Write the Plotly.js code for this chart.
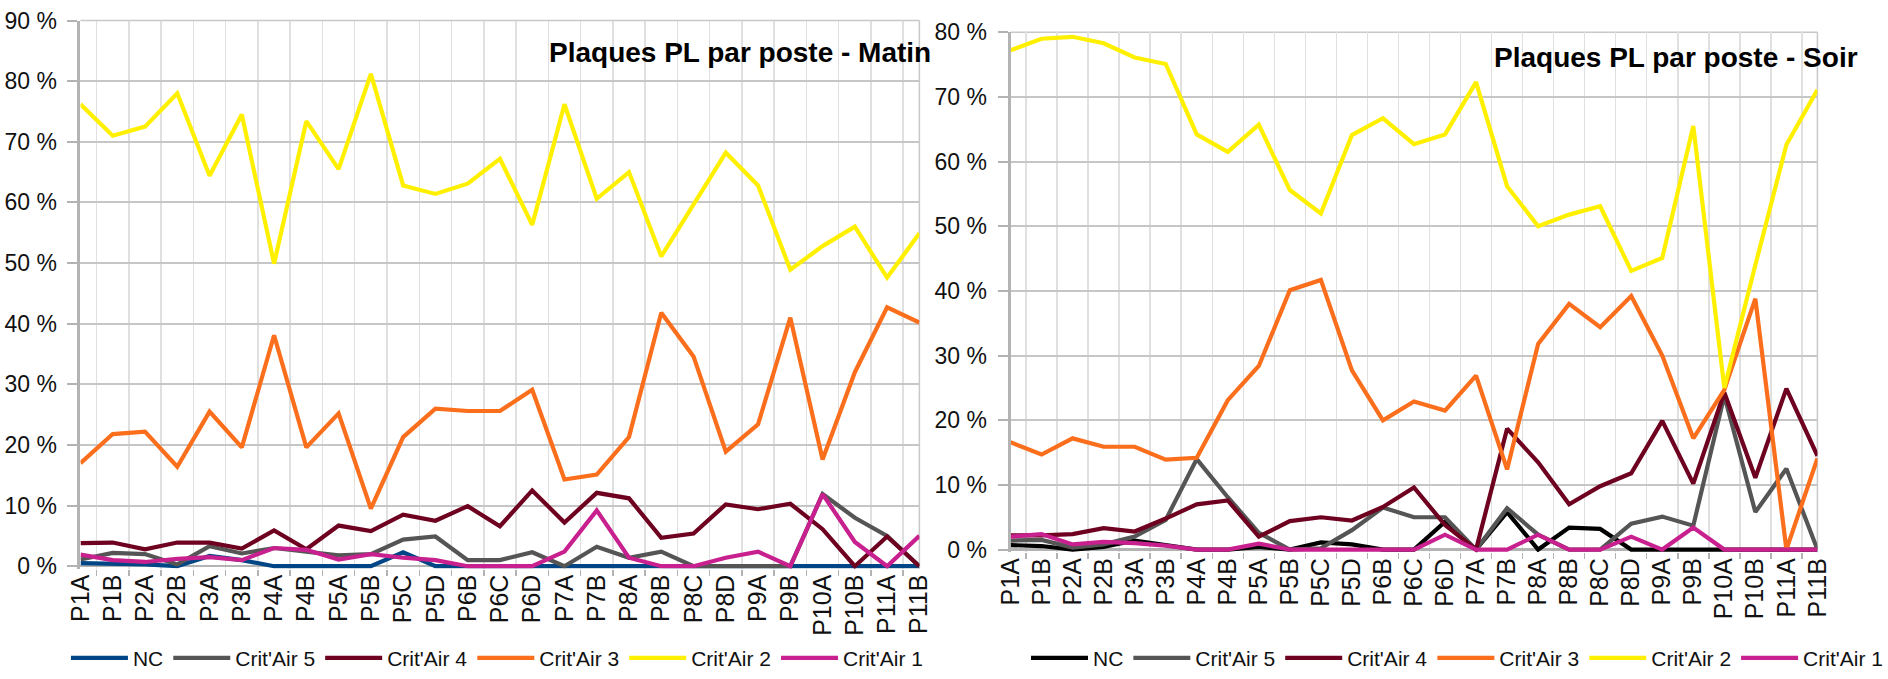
<!DOCTYPE html>
<html>
<head>
<meta charset="utf-8">
<script src="https://cdn.plot.ly/plotly-3.0.1.min.js"></script>
<style>html,body{margin:0;padding:0;background:#fff;}#chart{width:1888px;height:679px;}</style>
</head>
<body>
<div id="chart"></div>
<script>
// ---------- DATA ----------
const categories = ['P1A','P1B','P2A','P2B','P3A','P3B','P4A','P4B','P5A','P5B','P5C','P5D','P6B','P6C','P6D','P7A','P7B','P8A','P8B','P8C','P8D','P9A','P9B','P10A','P10B','P11A','P11B'];
const seriesNames = ['NC', "Crit'Air 5", "Crit'Air 4", "Crit'Air 3", "Crit'Air 2", "Crit'Air 1"];

// Matin (%)
const matinNC  = [0.5,0.4,0.3,0,1.7,1.0,0,0,0,0,2.3,0,0,0,0,0,0,0,0,0,0,0,0,0,0,0,0];
const matinCA5 = [1.1,2.2,2.0,0.3,3.3,2.1,3.0,2.4,1.8,2.0,4.4,4.9,1.0,1.0,2.3,0,3.2,1.4,2.4,0,0,0,0,11.9,8.0,5.0,0];
const matinCA4 = [3.8,3.9,2.8,3.9,3.9,2.9,5.9,2.8,6.7,5.8,8.5,7.5,9.9,6.6,12.5,7.2,12.1,11.2,4.7,5.4,10.2,9.4,10.3,6.1,0,4.9,0];
const matinCA3 = [17.0,21.8,22.2,16.4,25.5,19.6,38.1,19.6,25.2,9.5,21.3,26.0,25.6,25.6,29.1,14.3,15.1,21.3,41.8,34.6,18.9,23.4,41.0,17.6,32.0,42.7,40.2];
const matinCA2 = [76.2,71.0,72.5,78.0,64.4,74.5,49.9,73.4,65.5,81.2,62.8,61.4,63.1,67.2,56.3,76.2,60.6,65.0,51.1,59.8,68.2,62.8,48.9,52.8,56.0,47.6,54.9];
const matinCA1 = [1.9,1.0,0.7,1.2,1.5,1.0,3.0,2.7,1.1,2.0,1.4,1.0,0,0,0,2.4,9.2,1.4,0,0,1.4,2.4,0,11.9,4.0,0,5.0];

// Soir (%)
const soirNC  = [0.7,0.55,0,0.4,1.4,0.7,0,0,0.4,0,1.1,0.8,0,0,4.3,0,5.8,0,3.4,3.2,0,0,0,0,0,0,0];
const soirCA5 = [1.4,1.5,0.3,0.8,2.0,4.6,14.0,8.1,2.6,0,0.2,3.0,6.5,5.0,5.0,0,6.4,2.3,0,0,4.0,5.1,3.7,23.8,5.8,12.5,0];
const soirCA4 = [2.2,2.2,2.4,3.3,2.8,4.8,7.0,7.6,2.0,4.4,5.0,4.5,6.6,9.6,3.8,0,18.7,13.5,7.0,9.8,11.8,19.9,10.2,24.3,11.1,24.9,14.5];
const soirCA3 = [16.6,14.7,17.2,15.9,15.9,13.9,14.2,23.1,28.4,40.1,41.7,27.7,20.0,22.9,21.5,26.9,12.4,31.8,38.0,34.4,39.2,30.0,17.2,24.7,38.8,0,14.1];
const soirCA2 = [77.2,79.0,79.3,78.3,76.1,75.1,64.2,61.5,65.7,55.6,52.0,64.1,66.7,62.7,64.2,72.3,56.2,50.0,51.8,53.1,43.1,45.1,65.5,25.0,44.0,62.6,71.1];
const soirCA1 = [2.0,2.4,0.8,1.2,1.0,0.6,0,0,0.9,0,0,0,0,0,2.3,0,0,2.3,0,0,2.0,0,3.4,0,0,0,0];

const titleMatin = 'Plaques PL par poste - Matin';
const titleSoir  = 'Plaques PL par poste - Soir';

// ---------- STYLE ----------
const W = 1888, H = 679;
const colorsMatin = ['#004586','#555555','#6e0020','#fb6e1c','#fff000','#c8208e'];
const colorsSoir  = ['#000000','#555555','#6e0020','#fb6e1c','#fff000','#c8208e'];
const FONT = 'Liberation Sans, Arial, sans-serif';
const px = v => v / W;
const py = v => 1 - v / H;

const matin = [matinNC, matinCA5, matinCA4, matinCA3, matinCA2, matinCA1];
const soir  = [soirNC, soirCA5, soirCA4, soirCA3, soirCA2, soirCA1];

const traces = [];
matin.forEach((vals, k) => traces.push({
  type: 'scatter', mode: 'lines', x: categories, y: vals, name: seriesNames[k],
  xaxis: 'x', yaxis: 'y', legend: 'legend',
  line: {color: colorsMatin[k], width: 4.2}, hoverinfo: 'skip'
}));
soir.forEach((vals, k) => traces.push({
  type: 'scatter', mode: 'lines', x: categories, y: vals, name: seriesNames[k],
  xaxis: 'x2', yaxis: 'y2', legend: 'legend2',
  line: {color: colorsSoir[k], width: 4.2}, hoverinfo: 'skip'
}));

const gridH = '#c6c6c6', gridV = '#e0e0e0', axisC = '#b3b3b3';

function xAxis(domain, anchor) {
  return {
    type: 'category', domain: domain, anchor: anchor, range: [0, categories.length - 1],
    tickson: 'boundaries', showgrid: true, gridcolor: gridV, gridwidth: 1.5,
    ticks: 'outside', ticklen: 6, tickcolor: axisC, tickwidth: 1.5,
    tickangle: -90, tickfont: {family: FONT, size: 25, color: '#111'},
    showline: false, zeroline: false, fixedrange: true
  };
}
function yAxis(domain, anchor, max) {
  return {
    domain: domain, anchor: anchor, range: [-0.4, max], dtick: 10, tick0: 0,
    ticksuffix: ' %', showgrid: true, gridcolor: gridH, gridwidth: 2,
    zeroline: true, zerolinecolor: axisC, zerolinewidth: 2.5,
    showline: true, linecolor: axisC, linewidth: 3,
    ticks: 'outside', ticklen: 10, tickcolor: axisC, tickwidth: 2,
    ticklabelstandoff: 6,
    tickfont: {family: FONT, size: 23, color: '#111'}, fixedrange: true
  };
}

const leftDomX = [px(83), px(948)];
const rightDomX = [px(1042), px(1874)];
// left: 0 % at y=579, 90 % at y=21 ; right: 0 % at y=562, 80 % at y=33
const left0 = 579, left90 = 21, right0 = 562, right80 = 33;
const leftPerPct = (left0 - left90) / 90, rightPerPct = (right0 - right80) / 80;
const leftDomY = [py(left0 + 0.4 * leftPerPct), py(left90)];
const rightDomY = [py(right0 + 0.4 * rightPerPct), py(right80)];

function frame(xr, yr) {
  return [
    {type: 'line', xref: xr + ' domain', yref: yr + ' domain', x0: 1, x1: 1, y0: 0, y1: 1, line: {color: '#c8c8c8', width: 1.5}, layer: 'below'},
    {type: 'line', xref: xr + ' domain', yref: yr + ' domain', x0: 0, x1: 1, y0: 1, y1: 1, line: {color: '#c8c8c8', width: 1.5}, layer: 'below'}
  ];
}

const legendBase = {
  orientation: 'h', xanchor: 'left', yanchor: 'middle', y: py(673),
  font: {family: FONT, size: 21, color: '#111'}, itemwidth: 57,
  bgcolor: 'rgba(0,0,0,0)', tracegroupgap: 0, itemclick: false, itemdoubleclick: false
};

const layout = {
  width: W, height: H, margin: {l: 0, r: 0, t: 0, b: 0},
  paper_bgcolor: '#fff', plot_bgcolor: '#fff', showlegend: true,
  xaxis: xAxis(leftDomX, 'y'), yaxis: yAxis(leftDomY, 'x', 90),
  xaxis2: xAxis(rightDomX, 'y2'), yaxis2: yAxis(rightDomY, 'x2', 80),
  legend: Object.assign({}, legendBase, {x: px(68)}),
  legend2: Object.assign({}, legendBase, {x: px(1058)}),
  shapes: frame('x', 'y').concat(frame('x2', 'y2')),
  annotations: [
    {text: '<b>' + titleMatin + '</b>', xref: 'paper', yref: 'paper', x: px(564), y: py(54), xanchor: 'left', yanchor: 'middle', showarrow: false, font: {family: FONT, size: 28, color: '#000'}},
    {text: '<b>' + titleSoir + '</b>', xref: 'paper', yref: 'paper', x: px(1538), y: py(59), xanchor: 'left', yanchor: 'middle', showarrow: false, font: {family: FONT, size: 28, color: '#000'}}
  ]
};

Plotly.newPlot('chart', traces, layout, {displayModeBar: false, staticPlot: true});
</script>
</body>
</html>
